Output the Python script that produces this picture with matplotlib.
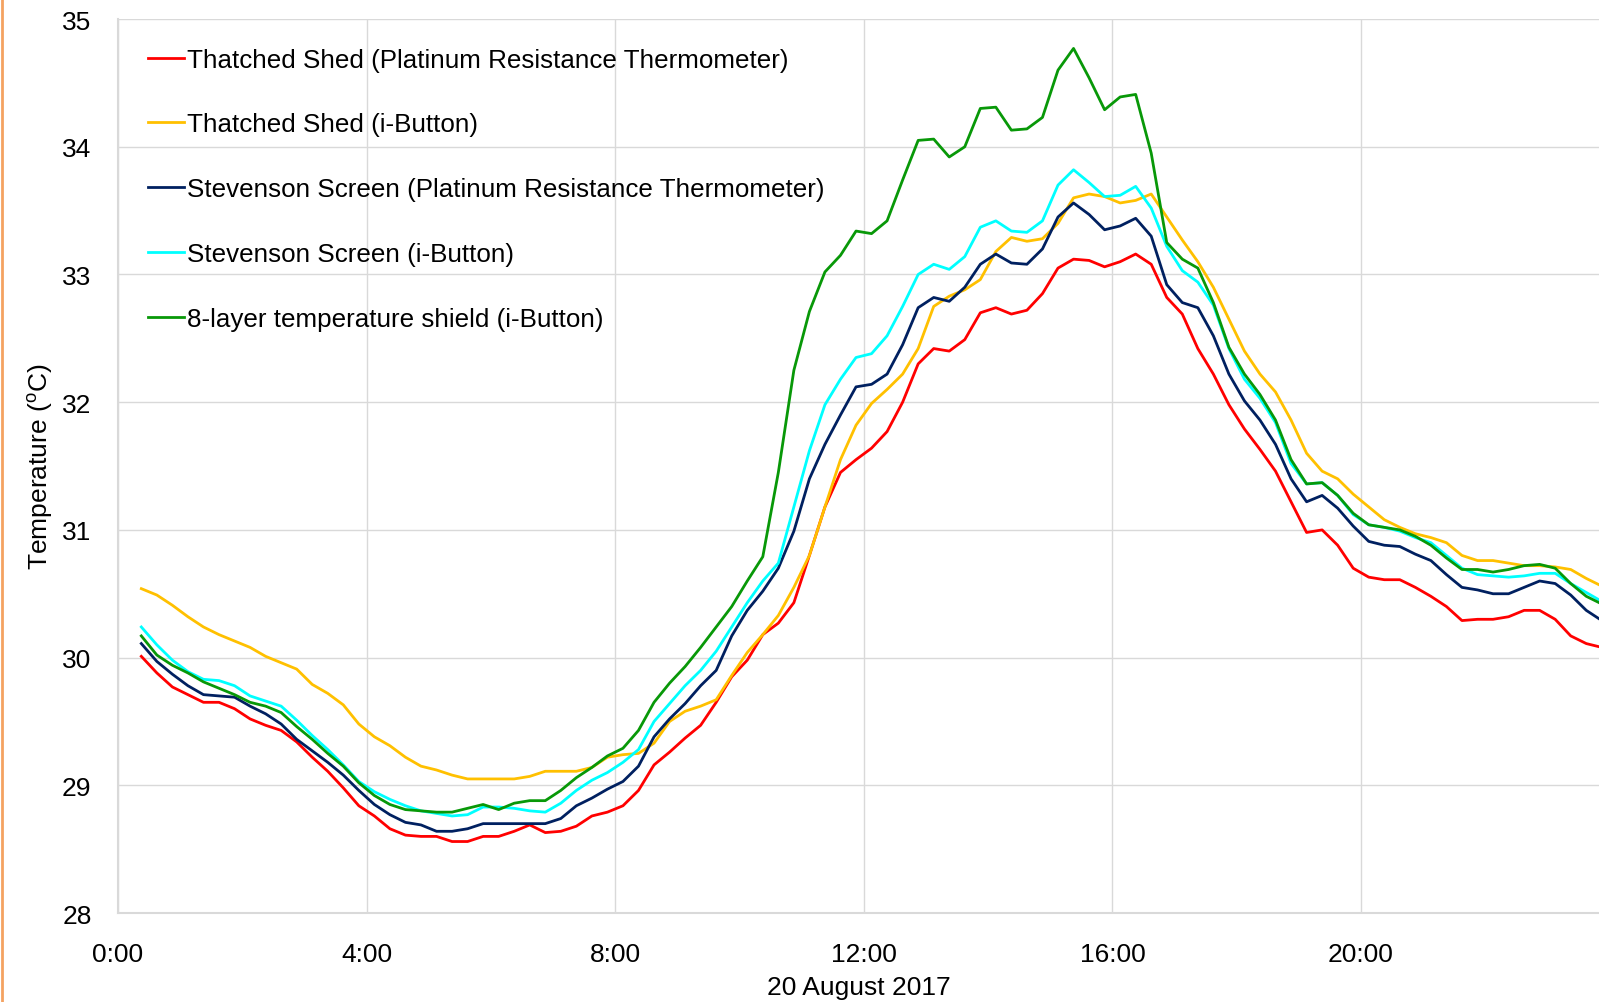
import numpy as np
import matplotlib
matplotlib.use("Agg")
from matplotlib import pyplot as plt
from matplotlib.lines import Line2D
from matplotlib.ticker import FixedLocator, FuncFormatter

plt.rcParams['font.family'] = ['Liberation Sans', 'DejaVu Sans']
plt.rcParams['mathtext.fontset'] = 'custom'
plt.rcParams['mathtext.rm'] = 'Liberation Sans'

# readings every 15 minutes (hours after midnight, 20 August 2017)
hours = np.arange(0.375, 23.9, 0.25)

shed_prt = [
    30.01, 29.88, 29.77, 29.71, 29.65, 29.65, 29.60, 29.52, 29.47, 29.43,
    29.34, 29.22, 29.11, 28.98, 28.84, 28.76, 28.66, 28.61, 28.60, 28.60,
    28.56, 28.56, 28.60, 28.60, 28.64, 28.69, 28.63, 28.64, 28.68, 28.76,
    28.79, 28.84, 28.96, 29.16, 29.26, 29.37, 29.47, 29.65, 29.85, 29.98,
    30.18, 30.27, 30.43, 30.80, 31.18, 31.45, 31.55, 31.64, 31.77, 32.00,
    32.30, 32.42, 32.40, 32.49, 32.70, 32.74, 32.69, 32.72, 32.85, 33.05,
    33.12, 33.11, 33.06, 33.10, 33.16, 33.08, 32.82, 32.69, 32.42, 32.22,
    31.98, 31.79, 31.63, 31.46, 31.22, 30.98, 31.00, 30.88, 30.70, 30.63,
    30.61, 30.61, 30.55, 30.48, 30.40, 30.29, 30.30, 30.30, 30.32, 30.37,
    30.37, 30.30, 30.17, 30.11, 30.08,
]
shed_ibutton = [
    30.54, 30.49, 30.41, 30.32, 30.24, 30.18, 30.13, 30.08, 30.01, 29.96,
    29.91, 29.79, 29.72, 29.63, 29.48, 29.38, 29.31, 29.22, 29.15, 29.12,
    29.08, 29.05, 29.05, 29.05, 29.05, 29.07, 29.11, 29.11, 29.11, 29.14,
    29.22, 29.24, 29.25, 29.33, 29.50, 29.58, 29.62, 29.67, 29.86, 30.04,
    30.18, 30.33, 30.55, 30.80, 31.18, 31.55, 31.82, 31.99, 32.10, 32.22,
    32.42, 32.75, 32.83, 32.88, 32.96, 33.18, 33.29, 33.26, 33.28, 33.40,
    33.60, 33.63, 33.61, 33.56, 33.58, 33.63, 33.45, 33.27, 33.10, 32.90,
    32.65, 32.40, 32.22, 32.08, 31.86, 31.60, 31.46, 31.40, 31.28, 31.18,
    31.08, 31.02, 30.97, 30.94, 30.90, 30.80, 30.76, 30.76, 30.74, 30.72,
    30.72, 30.71, 30.69, 30.62, 30.56,
]
screen_prt = [
    30.11, 29.97, 29.87, 29.78, 29.71, 29.70, 29.69, 29.62, 29.56, 29.48,
    29.36, 29.27, 29.18, 29.08, 28.96, 28.85, 28.77, 28.71, 28.69, 28.64,
    28.64, 28.66, 28.70, 28.70, 28.70, 28.70, 28.70, 28.74, 28.84, 28.90,
    28.97, 29.03, 29.15, 29.38, 29.52, 29.64, 29.78, 29.90, 30.17, 30.37,
    30.52, 30.70, 30.99, 31.40, 31.67, 31.90, 32.12, 32.14, 32.22, 32.45,
    32.74, 32.82, 32.79, 32.90, 33.08, 33.16, 33.09, 33.08, 33.20, 33.45,
    33.56, 33.47, 33.35, 33.38, 33.44, 33.30, 32.92, 32.78, 32.74, 32.52,
    32.22, 32.01, 31.86, 31.67, 31.40, 31.22, 31.27, 31.17, 31.03, 30.91,
    30.88, 30.87, 30.81, 30.76, 30.65, 30.55, 30.53, 30.50, 30.50, 30.55,
    30.60, 30.58, 30.49, 30.37, 30.29,
]
screen_ibutton = [
    30.24, 30.10, 29.98, 29.89, 29.83, 29.82, 29.78, 29.70, 29.66, 29.62,
    29.51, 29.39, 29.28, 29.16, 29.03, 28.95, 28.89, 28.84, 28.80, 28.78,
    28.76, 28.77, 28.83, 28.83, 28.82, 28.80, 28.79, 28.86, 28.96, 29.04,
    29.10, 29.18, 29.28, 29.50, 29.64, 29.78, 29.90, 30.05, 30.24, 30.43,
    30.60, 30.74, 31.18, 31.62, 31.98, 32.18, 32.35, 32.38, 32.52, 32.75,
    33.00, 33.08, 33.04, 33.14, 33.37, 33.42, 33.34, 33.33, 33.42, 33.70,
    33.82, 33.72, 33.61, 33.62, 33.69, 33.52, 33.22, 33.03, 32.94, 32.76,
    32.42, 32.18, 32.03, 31.84, 31.52, 31.36, 31.37, 31.27, 31.12, 31.04,
    31.02, 30.99, 30.94, 30.90, 30.80, 30.70, 30.65, 30.64, 30.63, 30.64,
    30.66, 30.66, 30.58, 30.51, 30.44,
]
shield_ibutton = [
    30.17, 30.02, 29.94, 29.88, 29.81, 29.76, 29.71, 29.65, 29.62, 29.57,
    29.46, 29.36, 29.25, 29.15, 29.02, 28.92, 28.85, 28.81, 28.80, 28.79,
    28.79, 28.82, 28.85, 28.81, 28.86, 28.88, 28.88, 28.96, 29.06, 29.14,
    29.23, 29.29, 29.43, 29.65, 29.80, 29.93, 30.08, 30.24, 30.40, 30.60,
    30.79, 31.45, 32.25, 32.71, 33.02, 33.15, 33.34, 33.32, 33.42, 33.74,
    34.05, 34.06, 33.92, 34.00, 34.30, 34.31, 34.13, 34.14, 34.23, 34.60,
    34.77, 34.54, 34.29, 34.39, 34.41, 33.95, 33.25, 33.12, 33.05, 32.78,
    32.43, 32.22, 32.06, 31.86, 31.55, 31.36, 31.37, 31.27, 31.13, 31.04,
    31.02, 31.00, 30.95, 30.88, 30.78, 30.69, 30.69, 30.67, 30.69, 30.72,
    30.73, 30.70, 30.58, 30.48, 30.42,
]

series = [
    ('Thatched Shed (Platinum Resistance Thermometer)', shed_prt, '#FF0000'),
    ('Thatched Shed (i-Button)', shed_ibutton, '#FFC000'),
    ('Stevenson Screen (Platinum Resistance Thermometer)', screen_prt, '#002060'),
    ('Stevenson Screen (i-Button)', screen_ibutton, '#00FFFF'),
    ('8-layer temperature shield (i-Button)', shield_ibutton, '#089808'),
]

fig = plt.figure(figsize=(15.99, 10.03), dpi=100)
ax = fig.add_axes([0.0738, 0.0887, 1 - 0.0738, 0.980 - 0.0887])

for name, vals, col in series:
    ax.plot(hours, vals, color=col, linewidth=2.0, label=name)

ax.set_xlim(0, 23.83)
ax.set_ylim(28, 35)
ax.xaxis.set_major_locator(FixedLocator([0, 4, 8, 12, 16, 20]))
ax.xaxis.set_major_formatter(FuncFormatter(lambda v, p: f'{int(v)}:00'))
ax.set_yticks(range(28, 36))
ax.grid(True, color='#D9D9D9', linewidth=1.0)
ax.set_axisbelow(True)
for side in ['top', 'right']:
    ax.spines[side].set_visible(False)
for side in ['left', 'bottom']:
    ax.spines[side].set_color('#D9D9D9')
    ax.spines[side].set_linewidth(1.5)
ax.tick_params(axis='both', length=0, labelsize=19, colors='black')
ax.tick_params(axis='x', pad=21)
ax.tick_params(axis='y', pad=19)

ax.set_xlabel('20 August 2017', fontsize=19, labelpad=6)
ax.set_ylabel(r'Temperature ($^{\mathrm{o}}$C)', fontsize=19, labelpad=5)

ax.legend(loc='upper left', bbox_to_anchor=(0.02, 0.968), frameon=False,
          fontsize=18.7, handlelength=1.4, handletextpad=0.12,
          labelspacing=1.57, borderpad=0, borderaxespad=0)

# thin orange border at the left edge of the picture
fig.add_artist(Line2D([0.001, 0.001], [0, 1], color='#F4A261', linewidth=2,
                      transform=fig.transFigure))

fig.savefig('out.png', dpi=100)
